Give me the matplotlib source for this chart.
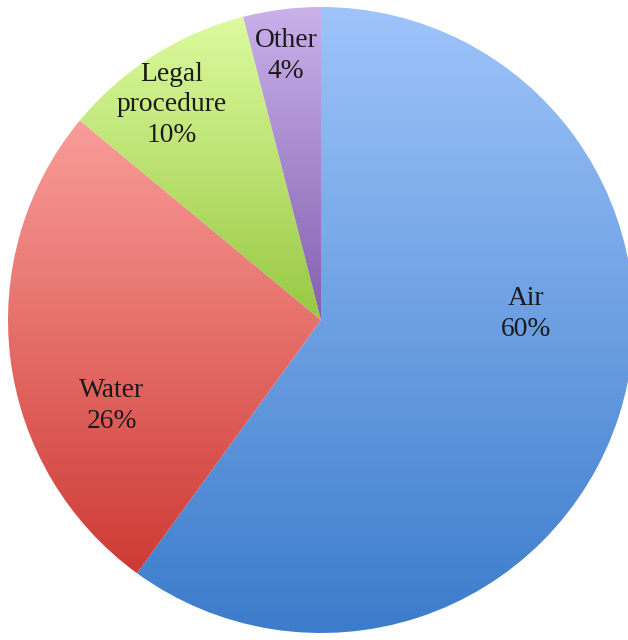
import numpy as np
import matplotlib.pyplot as plt
from matplotlib.colors import LinearSegmentedColormap

# data
labels = ["Air", "Water", "Legal\nprocedure", "Other"]
shares = [60, 26, 10, 4]
top_colors = ["#9EC4FA", "#F99D99", "#DDFB9F", "#C9B1EA"]
bottom_colors = ["#3C7CCB", "#CE3A35", "#98C843", "#8360AF"]

# label placement (data units, pie radius = 1)
label_pos = [(0.655, 0.02), (-0.668, -0.275), (-0.476, 0.687), (-0.112, 0.843)]

fig = plt.figure(figsize=(6.28, 6.40), dpi=100)
ax = fig.add_axes([8 / 628, 7 / 640, 626 / 628, 626 / 640])

wedges, _ = ax.pie(shares, startangle=90, counterclock=False, radius=1,
                   wedgeprops=dict(linewidth=0))

# vertical gradient per slice, clipped to the wedge
for w, c0, c1 in zip(wedges, top_colors, bottom_colors):
    w.set_facecolor("none")
    bb = w.get_path().get_extents()
    cmap = LinearSegmentedColormap.from_list("g", [c1, c0])
    grad = np.linspace(0, 1, 256).reshape(-1, 1)
    im = ax.imshow(grad, cmap=cmap, origin="lower", aspect="auto",
                   extent=[bb.x0, bb.x1, bb.y0, bb.y1], zorder=1)
    im.set_clip_path(w)

for lab, s, (x, y) in zip(labels, shares, label_pos):
    ax.text(x, y, f"{lab}\n{s}%", ha="center", va="center",
            fontsize=19.8, family="Liberation Serif", color="#1a1a1a",
            linespacing=1.3, zorder=3)

ax.set_xlim(-1, 1)
ax.set_ylim(-1, 1)
ax.set_aspect("auto")
ax.axis("off")

fig.savefig("out.png", dpi=100)
